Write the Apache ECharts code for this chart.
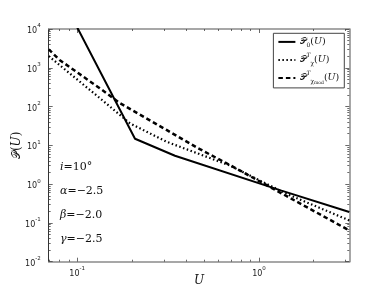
<!DOCTYPE html>
<html>
<head>
<meta charset="utf-8">
<script src="https://cdn.jsdelivr.net/npm/echarts@6/dist/echarts.min.js"></script>
<style>html,body{margin:0;padding:0;background:#fff}#c{width:388px;height:291px}</style>
</head>
<body>
<div id="c"></div>
<script>
// ---- data (U values and P(U) values) ----
const uSolid   = [0.0697, 0.208, 0.345, 1.33, 3.14];
const pSolid   = [2.85e5, 14.8, 5.4, 0.68, 0.191];
const uDotted  = [0.0697, 0.1334, 0.195, 0.31, 0.69, 1.42, 3.14];
const pDotted  = [2000, 164, 37, 12.4, 3.03, 0.56, 0.116];
const uDashed  = [0.0697, 0.08, 0.133, 0.172, 0.31, 0.463, 0.69, 1.33, 3.14];
const pDashed  = [3000, 1590, 297, 122, 25, 8.4, 3.13, 0.58, 0.064];
const seriesNames = ['P0', 'Pchi', 'Pchimod'];
const xRange = [0.0697, 3.14];
const yRange = [1e-2, 1e4];
const xMajorTicks = [0.1, 1];
const xMinorTicks = [0.07, 0.08, 0.09, 0.2, 0.3, 0.4, 0.5, 0.6, 0.7, 0.8, 0.9, 2, 3];
const yMajorTicks = [1e-2, 1e-1, 1e0, 1e1, 1e2, 1e3, 1e4];
const paramLines = [['i', '10°'], ['α', '−2.5'], ['β', '−2.0'], ['γ', '−2.5']];

const L = Math.log10;
const yMinorTicks = [];
for (let e = -2; e < 4; e++) for (let k = 2; k <= 9; k++) yMinorTicks.push(k * Math.pow(10, e));

function powLabel(v) {
  const e = Math.round(v);
  return '{b|10}{s|' + String(e) + '}';
}
const labelRich = {
  b: {fontSize: 8, fontFamily: 'DejaVu Sans', color: '#222', lineHeight: 12, verticalAlign: 'bottom'},
  s: {fontSize: 5.5, fontFamily: 'DejaVu Sans', color: '#222', lineHeight: 12, verticalAlign: 'top', padding: [0, 0, 5, 0]}
};
const spine = '#8a8a8a';

function xAxisDef(pos, ticks, len, showLabel, showLine, extra) {
  return Object.assign({
    type: 'value', position: pos, gridIndex: 0,
    min: L(xRange[0]), max: L(xRange[1]),
    splitLine: {show: false},
    axisLine: {show: showLine, onZero: false, lineStyle: {color: spine, width: 1.5}},
    axisTick: {show: true, inside: true, length: len, customValues: ticks.map(L), lineStyle: {color: '#444', width: 0.8}},
    axisLabel: showLabel ? {show: true, customValues: ticks.map(L), formatter: powLabel, rich: labelRich, margin: 4} : {show: false}
  }, extra || {});
}
function yAxisDef(pos, ticks, len, showLabel, showLine, color, extra) {
  return Object.assign({
    type: 'value', position: pos, gridIndex: 0,
    min: L(yRange[0]), max: L(yRange[1]),
    splitLine: {show: false},
    axisLine: {show: showLine, onZero: false, lineStyle: {color: color, width: color === spine ? 1.5 : 1}},
    axisTick: {show: true, inside: true, length: len, customValues: ticks.map(L), lineStyle: {color: '#444', width: 0.8}},
    axisLabel: showLabel ? {show: true, customValues: ticks.map(L), formatter: powLabel, rich: labelRich, margin: 8} : {show: false}
  }, extra || {});
}

const serif = 'DejaVu Serif';
const chart = echarts.init(document.getElementById('c'), null, {renderer: 'canvas'});
const legendText = {
  P0: '{p|𝒫}{sb|0}{n|(}{i|U}{n|)}',
  Pchi: '{p|𝒫}{sp|T}{sb|χ}{n|(}{i|U}{n|)}',
  Pchimod: '{p|𝒫}{sp|T}{sb|χ}{ss|mod}{n|(}{i|U}{n|)}'
};
const mk = (name, u, p, type, width) => ({
  name: name, type: 'line', xAxisIndex: 0, yAxisIndex: 0,
  data: u.map((x, i) => [L(x), L(p[i])]),
  showSymbol: false, symbol: 'none', clip: true, silent: true, animation: false,
  color: '#000',
  itemStyle: {color: '#000'},
  lineStyle: {color: '#000', width: width, type: type, cap: 'butt'}
});

chart.setOption({
  animation: false,
  backgroundColor: '#fff',
  grid: {left: 48.7, right: 38.7, top: 29, bottom: 29.3, containLabel: false, outerBoundsMode: 'none'},
  xAxis: [
    xAxisDef('bottom', xMajorTicks, 4, true, true, {name: 'U', nameLocation: 'middle', nameGap: 13, nameMoveOverlap: false,
      nameTextStyle: {fontFamily: serif, fontStyle: 'italic', fontSize: 12, color: '#111', verticalAlign: 'top'}}),
    xAxisDef('bottom', xMinorTicks, 2, false, false),
    xAxisDef('top', xMajorTicks, 4, false, true),
    xAxisDef('top', xMinorTicks, 2, false, false)
  ],
  yAxis: [
    yAxisDef('left', yMajorTicks, 4, true, true, '#333', {name: '{p|𝒫}{n|(}{i|U}{n|)}', nameLocation: 'middle', nameGap: 26, nameRotate: 90, nameMoveOverlap: false,
      nameTextStyle: {rich: {
        p: {fontFamily: serif, fontSize: 11, color: '#111'},
        n: {fontFamily: serif, fontSize: 12, color: '#111'},
        i: {fontFamily: serif, fontStyle: 'italic', fontSize: 12, color: '#111'}}}}),
    yAxisDef('left', yMinorTicks, 2, false, false, '#333'),
    yAxisDef('right', yMajorTicks, 4, false, true, spine),
    yAxisDef('right', yMinorTicks, 2, false, false, spine)
  ],
  legend: {
    orient: 'vertical', right: 43.7, top: 33.3,
    data: seriesNames,
    borderColor: '#444', borderWidth: 1, borderRadius: 0,
    padding: [3, 5, 3, 4], itemGap: 4, itemWidth: 17, itemHeight: 14,
    selectedMode: false,
    itemStyle: {opacity: 0, color: 'transparent', borderWidth: 0},
    formatter: n => legendText[n],
    textStyle: {
      color: '#111',
      rich: {
        p: {fontFamily: serif, fontSize: 9, color: '#111', lineHeight: 14},
        n: {fontFamily: serif, fontSize: 9.5, color: '#111', lineHeight: 14},
        i: {fontFamily: serif, fontStyle: 'italic', fontSize: 9.5, color: '#111', lineHeight: 14},
        sb: {fontFamily: serif, fontSize: 6, color: '#111', lineHeight: 14, verticalAlign: 'bottom'},
        ss: {fontFamily: serif, fontSize: 4.5, color: '#111', lineHeight: 14, verticalAlign: 'bottom'},
        sp: {fontFamily: serif, fontStyle: 'italic', fontSize: 6, color: '#111', lineHeight: 14, verticalAlign: 'top'}
      }
    }
  },
  series: [
    mk(seriesNames[0], uSolid, pSolid, 'solid', 2),
    mk(seriesNames[1], uDotted, pDotted, [1.5, 2.5], 2.2),
    mk(seriesNames[2], uDashed, pDashed, [4.5, 3], 2.5)
  ],
  graphic: paramLines.map((pl, k) => ({
    type: 'text', left: 60, top: 162 + k * 24, silent: true,
    style: {
      text: '{i|' + pl[0] + '}{n|=' + pl[1] + '}',
      rich: {
        i: {fontFamily: serif, fontStyle: 'italic', fontSize: 11, fill: '#111'},
        n: {fontFamily: serif, fontSize: 11, fill: '#111'}
      }
    }
  }))
});
</script>
</body>
</html>
